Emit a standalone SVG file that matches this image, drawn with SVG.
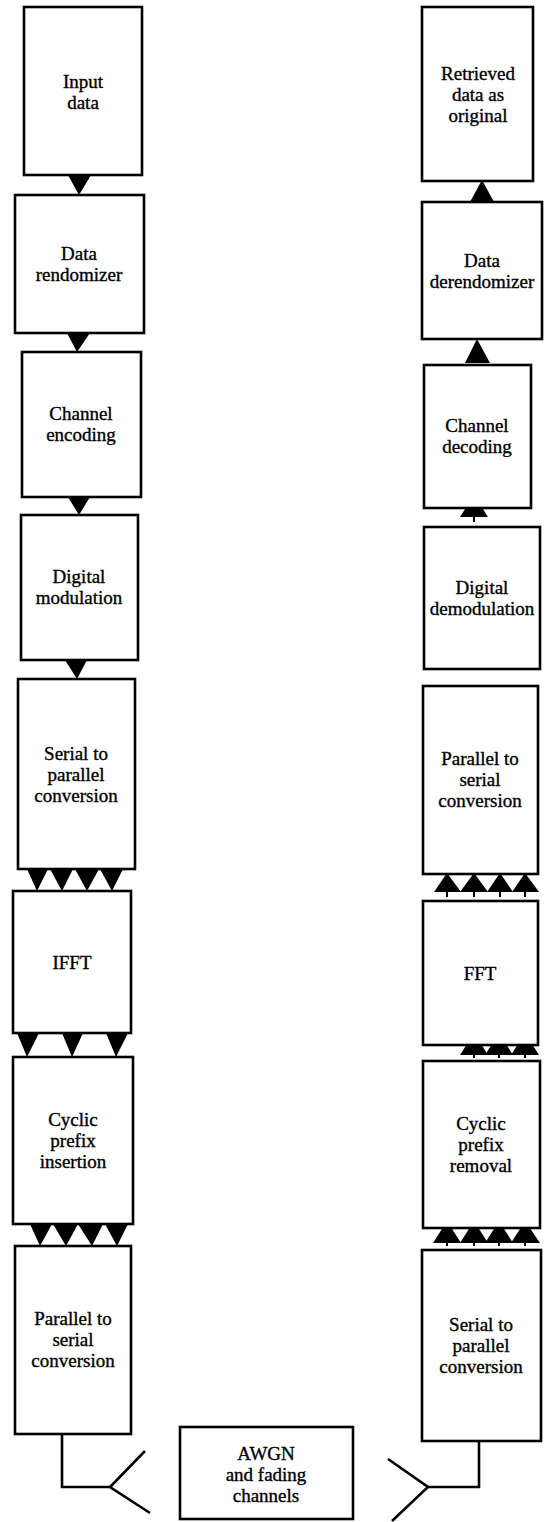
<svg xmlns="http://www.w3.org/2000/svg" width="546" height="1522" viewBox="0 0 546 1522">
<style>
.box{fill:#fff;stroke:#000;stroke-width:2.6}
.t{font-family:'Liberation Serif','Times New Roman',serif;font-size:19px;fill:#000;stroke:#000;stroke-width:0.35;text-anchor:middle}
.ar{fill:#000;stroke:none}
.ln{fill:none;stroke:#000;stroke-width:2.6}
.st{stroke:#000;stroke-width:2}
</style>
<rect width="546" height="1522" fill="#fff"/>
<g id="connectors">
<polygon class="ar" points="68,175 91,175 79,195"/>
<polygon class="ar" points="67,333 90,333 77,352"/>
<polygon class="ar" points="68,497 90,497 79,515"/>
<polygon class="ar" points="65,660 87,660 77,679"/>
<polygon class="ar" points="27,869 48,869 37,891"/>
<polygon class="ar" points="50,869 73,869 62,891"/>
<polygon class="ar" points="75,869 99,869 87,891"/>
<polygon class="ar" points="100,869 123,869 112,891"/>
<polygon class="ar" points="17,1033 39,1033 27,1057"/>
<polygon class="ar" points="62,1033 83,1033 72,1057"/>
<polygon class="ar" points="106,1033 128,1033 116,1057"/>
<polygon class="ar" points="30,1224 52,1224 40,1246"/>
<polygon class="ar" points="53,1224 78,1224 66,1246"/>
<polygon class="ar" points="78,1224 103,1224 92,1246"/>
<polygon class="ar" points="105,1224 128,1224 117,1246"/>
<polygon class="ar" points="470,202 494,202 482,180"/>
<polygon class="ar" points="465,363 490,363 477,339"/>
<polygon class="ar" points="460,517 488,517 474,495"/>
<line class="st" x1="474" y1="516" x2="474" y2="522"/>
<polygon class="ar" points="434,892 461,892 447,873"/>
<polygon class="ar" points="460,892 488,892 474,873"/>
<polygon class="ar" points="487,892 513,892 500,873"/>
<polygon class="ar" points="512,892 539,892 525,873"/>
<line class="st" x1="447" y1="891" x2="447" y2="897"/>
<line class="st" x1="474" y1="891" x2="474" y2="897"/>
<line class="st" x1="500" y1="891" x2="500" y2="897"/>
<line class="st" x1="525" y1="891" x2="525" y2="897"/>
<polygon class="ar" points="460,1055 488,1055 474,1033"/>
<polygon class="ar" points="485,1055 513,1055 499,1033"/>
<polygon class="ar" points="511,1055 539,1055 525,1033"/>
<line class="st" x1="474" y1="1054" x2="474" y2="1058"/>
<line class="st" x1="499" y1="1054" x2="499" y2="1058"/>
<line class="st" x1="525" y1="1054" x2="525" y2="1058"/>
<polygon class="ar" points="433,1243 461,1243 447,1221"/>
<polygon class="ar" points="460,1243 488,1243 474,1221"/>
<polygon class="ar" points="485,1243 513,1243 499,1221"/>
<polygon class="ar" points="511,1243 540,1243 525,1221"/>
<line class="st" x1="447" y1="1242" x2="447" y2="1246"/>
<line class="st" x1="474" y1="1242" x2="474" y2="1246"/>
<line class="st" x1="499" y1="1242" x2="499" y2="1246"/>
<line class="st" x1="525" y1="1242" x2="525" y2="1246"/>
<polyline class="ln" points="62,1434 62,1487 110,1487"/>
<polyline class="ln" points="145,1451 110,1487 150,1513"/>
<polyline class="ln" points="479,1441 479,1487 428,1487"/>
<polyline class="ln" points="388,1459 428,1487 392,1521"/>
</g>
<g id="input-data">
<rect class="box" x="24" y="7" width="118" height="168"/>
<text class="t" x="83" y="88">Input</text>
<text class="t" x="83" y="109">data</text>
</g>
<g id="data-rendomizer">
<rect class="box" x="15" y="195" width="129" height="138"/>
<text class="t" x="79" y="260">Data</text>
<text class="t" x="79" y="281">rendomizer</text>
</g>
<g id="channel-encoding">
<rect class="box" x="22" y="352" width="119" height="145"/>
<text class="t" x="81" y="420">Channel</text>
<text class="t" x="81" y="441">encoding</text>
</g>
<g id="digital-modulation">
<rect class="box" x="21" y="515" width="117" height="145"/>
<text class="t" x="79" y="583">Digital</text>
<text class="t" x="79" y="604">modulation</text>
</g>
<g id="serial-to-parallel-tx">
<rect class="box" x="18" y="679" width="117" height="190"/>
<text class="t" x="76" y="760">Serial to</text>
<text class="t" x="76" y="781">parallel</text>
<text class="t" x="76" y="802">conversion</text>
</g>
<g id="ifft">
<rect class="box" x="13" y="891" width="118" height="142"/>
<text class="t" x="72" y="969">IFFT</text>
</g>
<g id="cyclic-prefix-insertion">
<rect class="box" x="13" y="1057" width="120" height="167"/>
<text class="t" x="73" y="1126">Cyclic</text>
<text class="t" x="73" y="1147">prefix</text>
<text class="t" x="73" y="1168">insertion</text>
</g>
<g id="parallel-to-serial-tx">
<rect class="box" x="15" y="1246" width="116" height="188"/>
<text class="t" x="73" y="1325">Parallel to</text>
<text class="t" x="73" y="1346">serial</text>
<text class="t" x="73" y="1367">conversion</text>
</g>
<g id="awgn">
<rect class="box" x="180" y="1427" width="173" height="92"/>
<text class="t" x="266" y="1460">AWGN</text>
<text class="t" x="266" y="1481">and fading</text>
<text class="t" x="266" y="1502">channels</text>
</g>
<g id="retrieved-data">
<rect class="box" x="422" y="7" width="111" height="174"/>
<text class="t" x="478" y="80">Retrieved</text>
<text class="t" x="478" y="101">data as</text>
<text class="t" x="478" y="122">original</text>
</g>
<g id="data-derendomizer">
<rect class="box" x="422" y="202" width="120" height="137"/>
<text class="t" x="482" y="267">Data</text>
<text class="t" x="482" y="288">derendomizer</text>
</g>
<g id="channel-decoding">
<rect class="box" x="424" y="365" width="107" height="143"/>
<text class="t" x="477" y="432">Channel</text>
<text class="t" x="477" y="453">decoding</text>
</g>
<g id="digital-demodulation">
<rect class="box" x="424" y="527" width="116" height="142"/>
<text class="t" x="482" y="594">Digital</text>
<text class="t" x="482" y="615">demodulation</text>
</g>
<g id="parallel-to-serial-rx">
<rect class="box" x="423" y="686" width="115" height="188"/>
<text class="t" x="480" y="765">Parallel to</text>
<text class="t" x="480" y="786">serial</text>
<text class="t" x="480" y="807">conversion</text>
</g>
<g id="fft">
<rect class="box" x="423" y="901" width="115" height="144"/>
<text class="t" x="480" y="980">FFT</text>
</g>
<g id="cyclic-prefix-removal">
<rect class="box" x="423" y="1061" width="117" height="167"/>
<text class="t" x="481" y="1130">Cyclic</text>
<text class="t" x="481" y="1151">prefix</text>
<text class="t" x="481" y="1172">removal</text>
</g>
<g id="serial-to-parallel-rx">
<rect class="box" x="422" y="1250" width="119" height="191"/>
<text class="t" x="481" y="1331">Serial to</text>
<text class="t" x="481" y="1352">parallel</text>
<text class="t" x="481" y="1373">conversion</text>
</g>
</svg>
